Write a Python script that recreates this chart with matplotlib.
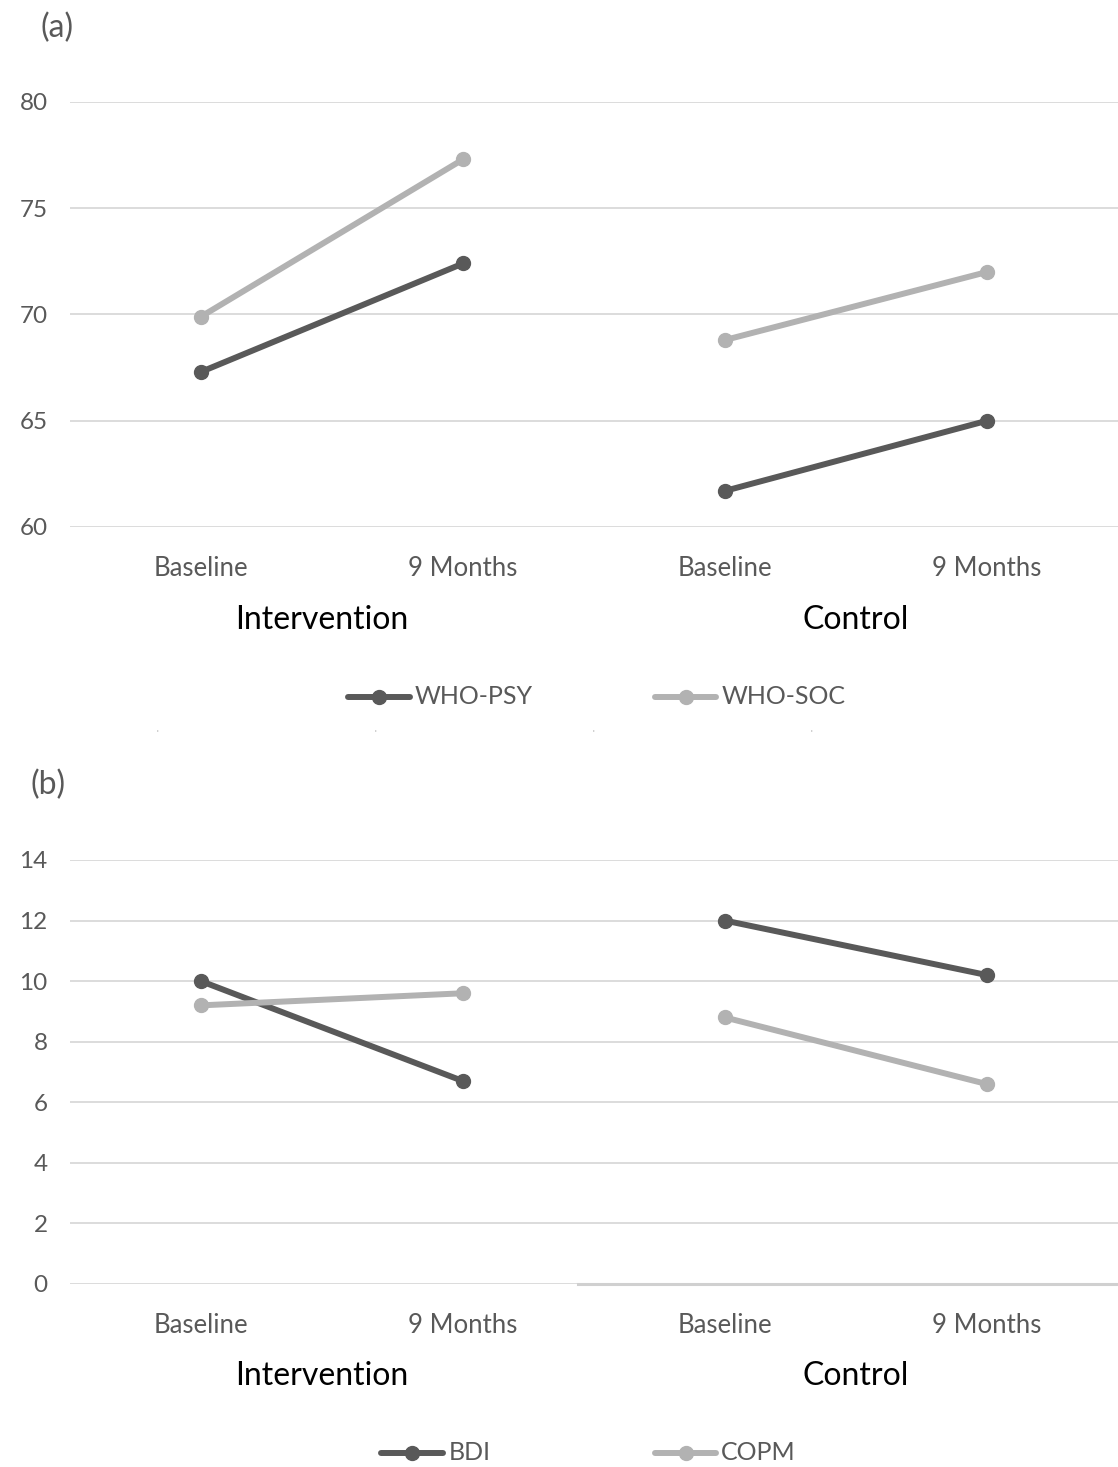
# Two-panel line chart: intervention vs control at baseline and 9 months

import numpy as np
import matplotlib.pyplot as plt

plt.rcParams['font.family'] = ['Lato', 'DejaVu Sans']

time_labels = ["Baseline", "9 Months", "Baseline", "9 Months"]
group_labels = ["Intervention", "Control"]

# panel (a)
who_psy = [67.3, 72.4, 61.7, 65.0]
who_soc = [69.9, 77.3, 68.8, 72.0]

# panel (b)
bdi = [10.0, 6.7, 12.0, 10.2]
copm = [9.2, 9.6, 8.8, 6.6]

dark = "#595959"
light = "#b2b2b2"
grid = "#d9d9d9"
txt = "#595959"

fig = plt.figure(figsize=(11.18, 14.67), dpi=100)

W, H = 1118, 1467


def px_axes(left, top, right, bottom):
    return fig.add_axes([left / W, 1 - bottom / H, (right - left) / W, (bottom - top) / H])


def draw_panel(ax, s1, s2, names, ylim, ystep, legend_y, leg_x):
    x = np.arange(4)
    for seg in (slice(0, 2), slice(2, 4)):
        ax.plot(x[seg], s1[seg], color=dark, lw=4.3, marker="o", ms=10,
                solid_capstyle="round", zorder=3)
        ax.plot(x[seg], s2[seg], color=light, lw=4.3, marker="o", ms=10,
                solid_capstyle="round", zorder=3)
    ax.set_xlim(-0.5, 3.5)
    ax.set_ylim(*ylim)
    ax.set_yticks(np.arange(ylim[0], ylim[1] + 0.01, ystep))
    ax.yaxis.grid(True, color=grid, lw=1.3)
    ax.set_axisbelow(True)
    for sp in ax.spines.values():
        sp.set_visible(False)
    ax.tick_params(axis="x", length=0, labelsize=18.5, colors=txt, pad=21)
    ax.tick_params(axis="y", length=0, labelsize=17.5, colors=txt, pad=16)
    ax.set_xticks(x)
    ax.set_xticklabels(time_labels)
    for gx, g in zip([0.46, 2.5], group_labels):
        ax.text(gx, -0.218, g, transform=ax.get_xaxis_transform(), ha="center",
                va="center", fontsize=23, color="#000000")
    # legend drawn by hand in figure pixels
    for (x0, x1, tx), name, col in zip(leg_x, names, [dark, light]):
        fig.add_artist(plt.Line2D([x0 / W, x1 / W], [1 - legend_y / H] * 2, color=col,
                                  lw=4.3, solid_capstyle="round"))
        fig.add_artist(plt.Line2D([(x0 + x1) / 2 / W], [1 - legend_y / H], color=col,
                                  marker="o", ms=10))
        fig.text(tx / W, 1 - legend_y / H, name, ha="left", va="center",
                 fontsize=18, color=txt)


ax1 = px_axes(70, 102, 1118, 527)
draw_panel(ax1, who_psy, who_soc, ["WHO-PSY", "WHO-SOC"], (60, 80), 5, 697,
           [(348, 410, 415), (655, 716, 722)])
fig.text(57 / W, 1 - 28 / H, "(a)", ha="center", va="center", fontsize=23, color=txt)

ax2 = px_axes(70, 860, 1118, 1284)
draw_panel(ax2, bdi, copm, ["BDI", "COPM"], (0, 14), 2, 1453,
           [(381, 443, 449), (655, 716, 721)])
fig.text(48 / W, 1 - 785 / H, "(b)", ha="center", va="center", fontsize=23, color=txt)
# slightly heavier baseline on the right half of panel (b)
ax2.plot([0.485, 1.0], [0, 0], transform=ax2.get_yaxis_transform(), color="#d0d0d0",
         lw=2.2, zorder=1, clip_on=False)

# faint dotted separator between the panels
fig.add_artist(plt.Line2D([0.14, 0.87], [1 - 731 / H] * 2, color="#c8c8c8", lw=1.2,
                          linestyle=(0, (0.8, 130))))

fig.savefig("out.png", dpi=100)
